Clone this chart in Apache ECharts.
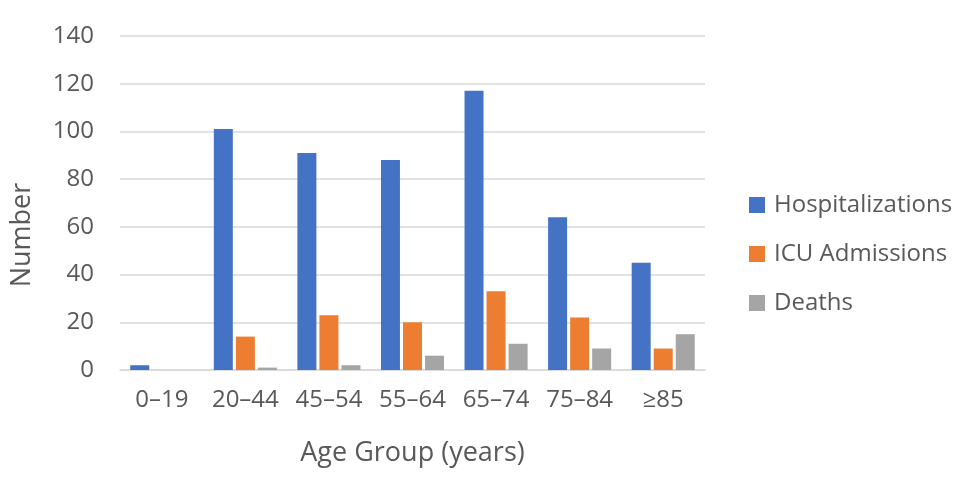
<!DOCTYPE html>
<html><head><meta charset="utf-8">
<script src="https://cdn.jsdelivr.net/npm/echarts@6/dist/echarts.min.js"></script>
<style>html,body{margin:0;padding:0;background:#fff}#c{width:960px;height:480px}</style>
</head><body><div id="c"></div>
<script>
const categories = ['0–19','20–44','45–54','55–64','65–74','75–84','≥85'];
const hospitalizations = [2,101,91,88,117,64,45];
const icuAdmissions = [0,14,23,20,33,22,9];
const deaths = [0,1,2,6,11,9,15];
const yTicks = {min:0,max:140,interval:20};

const font = '"Open Sans", sans-serif';
const txt = '#595959';
const chart = echarts.init(document.getElementById('c'));
chart.setOption({
  animation:false,
  grid:{left:120,right:255,top:36,bottom:110,containLabel:false},
  legend:{orient:'vertical',left:744,top:188,itemGap:25,itemWidth:16,itemHeight:16,icon:'rect',
    textStyle:{fontFamily:font,fontSize:24,lineHeight:24,color:txt,padding:[0,0,0,4]}},
  xAxis:{type:'category',data:categories,
    name:'Age Group (years)',nameLocation:'middle',nameGap:70,
    nameTextStyle:{fontFamily:font,fontSize:27,color:txt},
    axisLine:{lineStyle:{color:'#D9D9D9',width:1.5}},axisTick:{show:false},
    axisLabel:{fontFamily:font,fontSize:24,color:txt,margin:18,interval:0,hideOverlap:false}},
  yAxis:{type:'value',min:yTicks.min,max:yTicks.max,interval:yTicks.interval,
    name:'Number',nameLocation:'middle',nameGap:84,
    nameTextStyle:{fontFamily:font,fontSize:27,color:txt,padding:[0,64,0,0]},
    axisLine:{show:false},axisTick:{show:false},
    splitLine:{lineStyle:{color:'#D9D9D9',width:1.5}},
    axisLabel:{fontFamily:font,fontSize:24,color:txt,margin:26}},
  series:[
    {name:'Hospitalizations',type:'bar',data:hospitalizations,barWidth:19,barGap:'16%',itemStyle:{color:'#4472C4'}},
    {name:'ICU Admissions',type:'bar',data:icuAdmissions,barWidth:19,itemStyle:{color:'#ED7D31'}},
    {name:'Deaths',type:'bar',data:deaths,barWidth:19,itemStyle:{color:'#A5A5A5'}}
  ]
});
</script></body></html>
